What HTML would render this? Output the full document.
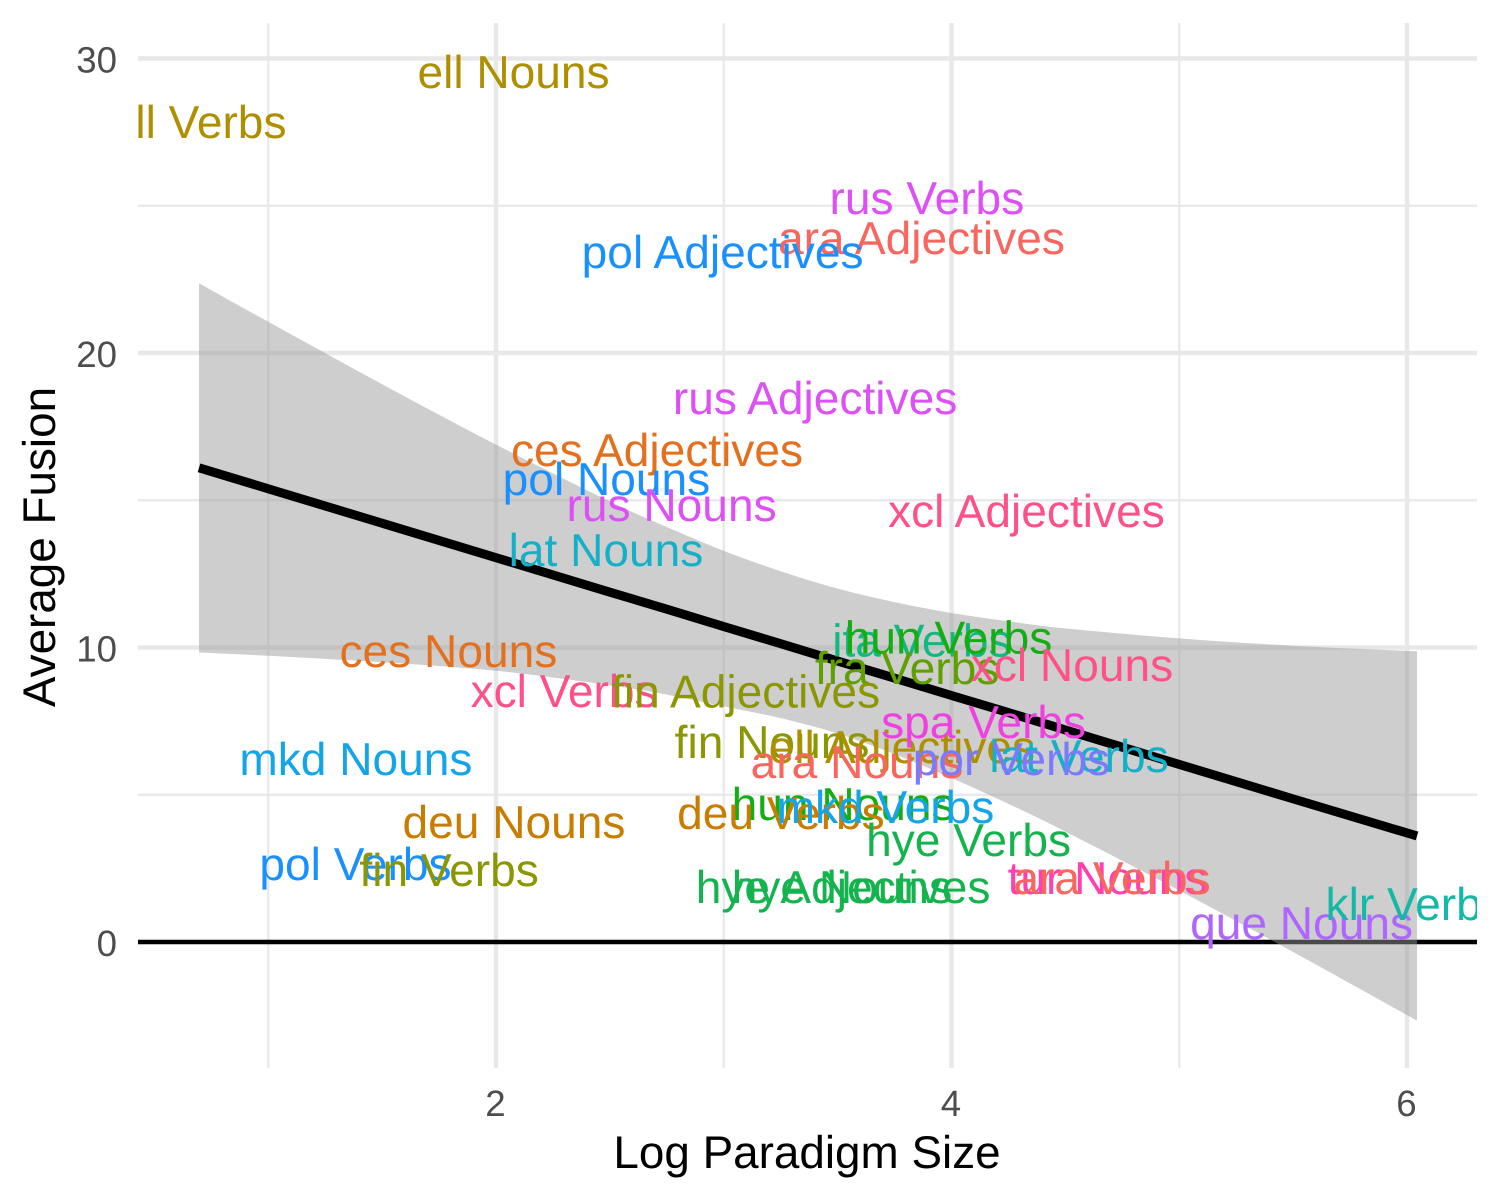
<!DOCTYPE html>
<html>
<head>
<meta charset="utf-8">
<title>Average Fusion vs Log Paradigm Size</title>
<style>
html,body{margin:0;padding:0;background:#fff;}
svg{display:block;font-family:"Liberation Sans",Arial,sans-serif;text-rendering:geometricPrecision;}
</style>
</head>
<body>
<svg id="chart" xmlns="http://www.w3.org/2000/svg" width="1500" height="1200" viewBox="0 0 1500 1200">
  <defs><clipPath id="panel-clip"><rect x="138" y="23" width="1339" height="1045"/></clipPath></defs>
  <g id="grid"></g>
  <g id="marks" clip-path="url(#panel-clip)"></g>
  <g id="axes"></g>
  <text x="807" y="1168" font-size="45.83" text-anchor="middle" fill="#000">Log Paradigm Size</text>
  <text transform="translate(55,547) rotate(-90)" font-size="45.83" text-anchor="middle" fill="#000">Average Fusion</text>
</svg>
<script>
const labels = ["ell Nouns","ell Verbs","rus Verbs","ara Adjectives","pol Adjectives","rus Adjectives","ces Adjectives","pol Nouns","rus Nouns","xcl Adjectives","lat Nouns","ita Verbs","hun Verbs","fra Verbs","xcl Nouns","xcl Verbs","fin Adjectives","ces Nouns","fin Nouns","ell Adjectives","ara Nouns","spa Verbs","lat Verbs","por Verbs","mkd Nouns","hun Nouns","deu Verbs","mkd Verbs","deu Nouns","hye Verbs","hye Adjectives","hye Nouns","tur Nouns","ara Verbs","que Nouns","klr Verbs","pol Verbs","fin Verbs"];
const logSize = [2.077,0.692,3.892,3.868,2.995,3.401,2.707,2.485,2.771,4.329,2.483,3.870,3.987,3.805,4.529,2.299,3.096,1.791,3.212,3.782,3.585,4.141,4.560,4.263,1.385,3.524,3.251,3.710,2.079,4.075,3.524,3.519,4.685,4.705,5.537,6.036,1.383,1.794];
const fusion = [29.55,27.86,25.28,23.92,23.44,18.49,16.72,15.74,14.85,14.65,13.32,10.25,10.35,9.32,9.42,8.54,8.52,9.89,6.80,6.63,6.13,7.49,6.33,6.23,6.23,4.70,4.40,4.60,4.09,3.48,1.88,1.88,2.19,2.19,0.66,1.30,2.66,2.46];
const langNames = ["ara","ces","deu","ell","fin","fra","hun","hye","ita","klr","lat","mkd","pol","por","que","rus","spa","tur","xcl"];
const langColors = ["#F8665F","#E4701E","#C87C00","#AE8F00","#8B9700","#5FA000","#14AE14","#14B34E","#14B87F","#14B8A6","#14B0C8","#14A5E8","#1A90FF","#7A7AFF","#AE66FF","#DC50F6","#F040E0","#FF40B0","#FF5088"];
const smoothX = [0.696,1,1.5,2,2.5,2.75,3,3.25,3.5,3.75,4,4.25,4.5,5,5.5,6.044];
const smoothFit = [16.10,15.39,14.22,13.05,11.88,11.30,10.71,10.13,9.54,8.96,8.37,7.79,7.20,6.03,4.86,3.60];
const smoothUpper = [22.37,21.06,18.94,16.89,14.96,14.09,13.28,12.59,12.00,11.54,11.17,10.89,10.65,10.31,10.06,9.87];
const smoothLower = [9.83,9.72,9.50,9.21,8.72,8.40,8.00,7.60,7.08,6.38,5.57,4.69,3.75,1.75,-0.34,-2.67];
const xMajor = [2,4,6];
const xMinor = [1,3,5];
const yMajor = [0,10,20,30];
const yMinor = [5,15,25];

const NS = "http://www.w3.org/2000/svg";
const PANEL = {left:138, right:1477, top:23, bottom:1068};
const GRID_COLOR = "#E8E8E8";
function xScale(v){ return 496 + (v - 2) * 227.75; }
function yScale(v){ return 942 - v * 29.45; }
function make(tag, attrs, parent){
  const el = document.createElementNS(NS, tag);
  for (const k in attrs) el.setAttribute(k, attrs[k]);
  parent.appendChild(el);
  return el;
}
// Catmull-Rom segments through the given pixel points
function curve(pts){
  let d = "";
  for (let i = 0; i < pts.length - 1; i++){
    const p0 = pts[Math.max(i - 1, 0)], p1 = pts[i], p2 = pts[i + 1], p3 = pts[Math.min(i + 2, pts.length - 1)];
    const c1x = p1[0] + (p2[0] - p0[0]) / 6, c1y = p1[1] + (p2[1] - p0[1]) / 6;
    const c2x = p2[0] - (p3[0] - p1[0]) / 6, c2y = p2[1] - (p3[1] - p1[1]) / 6;
    d += " C" + c1x + " " + c1y + " " + c2x + " " + c2y + " " + p2[0] + " " + p2[1];
  }
  return d;
}
const grid = document.getElementById("grid");
const marks = document.getElementById("marks");
const axes = document.getElementById("axes");

yMinor.forEach(function(v){
  const el = make("line", {x1:PANEL.left, x2:PANEL.right, y1:yScale(v), y2:yScale(v), stroke:GRID_COLOR, "stroke-width":2.2}, grid);
  
  
});
xMinor.forEach(function(v){
  const el = make("line", {x1:xScale(v), x2:xScale(v), y1:PANEL.top, y2:PANEL.bottom, stroke:GRID_COLOR, "stroke-width":2.2}, grid);
  
  
});
yMajor.forEach(function(v){
  const el = make("line", {x1:PANEL.left, x2:PANEL.right, y1:yScale(v), y2:yScale(v), stroke:GRID_COLOR, "stroke-width":4.4}, grid);
  
  
  const t = make("text", {x:117, y:yScale(v)+13.8, "text-anchor":"end", "font-size":36.67, fill:"#4D4D4D"}, axes);
  t.textContent = String(v);
  
  
});
xMajor.forEach(function(v){
  const el = make("line", {x1:xScale(v), x2:xScale(v), y1:PANEL.top, y2:PANEL.bottom, stroke:GRID_COLOR, "stroke-width":4.4}, grid);
  
  
  const t = make("text", {x:xScale(v)-0.5, y:1116, "text-anchor":"middle", "font-size":36.67, fill:"#4D4D4D"}, axes);
  t.textContent = String(v);
  
  
});

const zero = make("line", {x1:PANEL.left, x2:PANEL.right, y1:yScale(0), y2:yScale(0), stroke:"#000", "stroke-width":4.4}, marks);



const upperPts = smoothX.map(function(x, i){ return [xScale(x), yScale(smoothUpper[i])]; });
const lowerPts = smoothX.map(function(x, i){ return [xScale(x), yScale(smoothLower[i])]; }).reverse();
const ribbonPath = "M" + upperPts[0][0] + " " + upperPts[0][1] + curve(upperPts) + " L" + lowerPts[0][0] + " " + lowerPts[0][1] + curve(lowerPts) + " Z";
const ribbon = make("path", {d:ribbonPath, fill:"#999999", "fill-opacity":0.48}, marks);



const fitPts = smoothX.map(function(x, i){ return xScale(x) + "," + yScale(smoothFit[i]); });
const fit = make("polyline", {points:fitPts.join(" "), fill:"none", stroke:"#000", "stroke-width":9}, marks);



labels.forEach(function(label, i){
  const lang = label.split(" ")[0];
  const t = make("text", {x:xScale(logSize[i]), y:yScale(fusion[i]) + 16.4, "text-anchor":"middle", "font-size":46.1, fill:langColors[langNames.indexOf(lang)]}, marks);
  t.textContent = label;
  
  
});
</script>
</body>
</html>
